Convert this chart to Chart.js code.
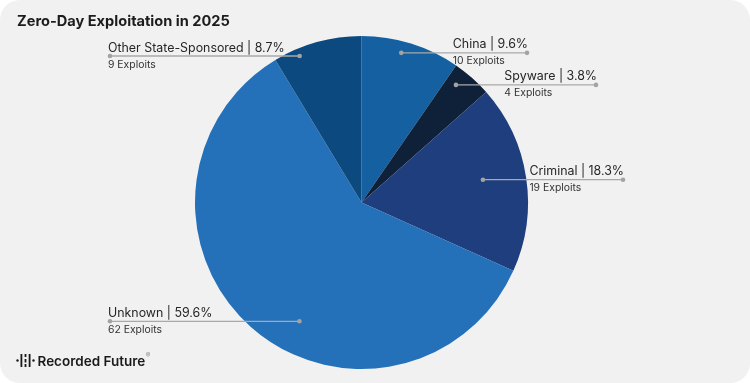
<!DOCTYPE html>
<html><head><meta charset="utf-8">
<script src="https://cdn.jsdelivr.net/npm/chart.js@4"></script>
<style>
html,body{margin:0;padding:0;background:#ffffff;}
#wrap{position:relative;width:750px;height:383px;background:#f1f1f1;border-radius:20px;overflow:hidden;}
canvas{position:absolute;left:0;top:0;}
</style>
</head><body>
<div id="wrap"><canvas id="c" width="750" height="383"></canvas></div>
<script>
const titleText = 'Zero-Day Exploitation in 2025';
const categories = ['China', 'Spyware', 'Criminal', 'Unknown', 'Other State-Sponsored'];
const exploits = [10, 4, 19, 62, 9];
const percents = [9.6, 3.8, 18.3, 59.6, 8.7];
const sliceColors = ['#1560a0', '#0e2139', '#1f3e7d', '#2471ba', '#0b497f'];
// label layout: position inside slice (fraction of slice angle, fraction of radius), side, outer x
const labelLayout = [
  {t: 0.43, r: 0.93, side: 'right', x: 527},
  {t: 0.30, r: 0.906, side: 'right', x: 596},
  {t: 0.47, r: 0.742, side: 'right', x: 623},
  {t: 0.435, r: 0.805, side: 'left', x: 110},
  {t: 0.265, r: 0.955, side: 'left', x: 110}
];
const FONT = 'Inter, "Noto Sans", sans-serif';

const decor = {
  id: 'decor',
  afterDraw(chart) {
    const ctx = chart.ctx;
    ctx.save();
    // title
    ctx.fillStyle = '#1c1c1c';
    ctx.font = '700 14.6px ' + FONT;
    ctx.textBaseline = 'alphabetic';
    ctx.textAlign = 'left';
    ctx.fillText(titleText, 17, 25.5);

    // labels
    const meta = chart.getDatasetMeta(0);
    meta.data.forEach((arc, i) => {
      const L = labelLayout[i];
      const a = arc.startAngle + L.t * (arc.endAngle - arc.startAngle);
      const px = arc.x + Math.cos(a) * arc.outerRadius * L.r;
      const py = arc.y + Math.sin(a) * arc.outerRadius * L.r;
      const main = categories[i] + ' | ' + percents[i].toFixed(1) + '%';
      const sub = exploits[i] + ' Exploits';
      ctx.font = '400 12.4px ' + FONT;
      const w = ctx.measureText(main).width;
      ctx.strokeStyle = '#a9a9a9';
      ctx.lineWidth = 1.3;
      ctx.beginPath();
      ctx.moveTo(px, py);
      ctx.lineTo(L.x, py);
      ctx.stroke();
      ctx.fillStyle = '#a3a3a3';
      [px, L.x].forEach(xx => { ctx.beginPath(); ctx.arc(xx, py, 2.3, 0, Math.PI * 2); ctx.fill(); });
      const tx = L.side === 'right' ? L.x + 1 - w : L.x - 2;
      ctx.fillStyle = '#262626';
      ctx.font = '400 12.4px ' + FONT;
      ctx.fillText(main, tx, py - 4.5);
      ctx.font = '400 10.4px ' + FONT;
      ctx.fillStyle = '#333333';
      ctx.fillText(sub, tx, py + 11.5);
    });

    // logo
    ctx.fillStyle = '#1a1a1a';
    ctx.beginPath(); ctx.arc(17.5, 360.5, 1.2, 0, Math.PI * 2); ctx.fill();
    ctx.beginPath(); ctx.arc(33.5, 360.5, 1.2, 0, Math.PI * 2); ctx.fill();
    ctx.fillRect(20.5, 354, 1.8, 13);
    ctx.fillRect(28.7, 354, 1.8, 13);
    ctx.fillRect(24.6, 354, 1.8, 3);
    ctx.fillRect(24.6, 359, 1.8, 3.5);
    ctx.fillRect(24.6, 364, 1.8, 3);
    ctx.font = '600 13.5px ' + FONT;
    ctx.fillStyle = '#1a1a1a';
    ctx.fillText('Recorded Future', 37.5, 365.5);
    const lw = ctx.measureText('Recorded Future').width;
    ctx.font = '400 7px ' + FONT;
    ctx.fillStyle = '#8a8a8a';
    ctx.fillText('®', 37.5 + lw + 0.5, 358);
    ctx.restore();
  }
};

new Chart(document.getElementById('c'), {
  type: 'pie',
  data: {
    labels: categories,
    datasets: [{
      data: exploits,
      backgroundColor: sliceColors,
      borderWidth: 0
    }]
  },
  options: {
    responsive: false,
    animation: false,
    layout: {padding: {top: 36, bottom: 14, left: 195, right: 222}},
    plugins: {legend: {display: false}, tooltip: {enabled: false}}
  },
  plugins: [decor]
});
</script>
</body></html>
